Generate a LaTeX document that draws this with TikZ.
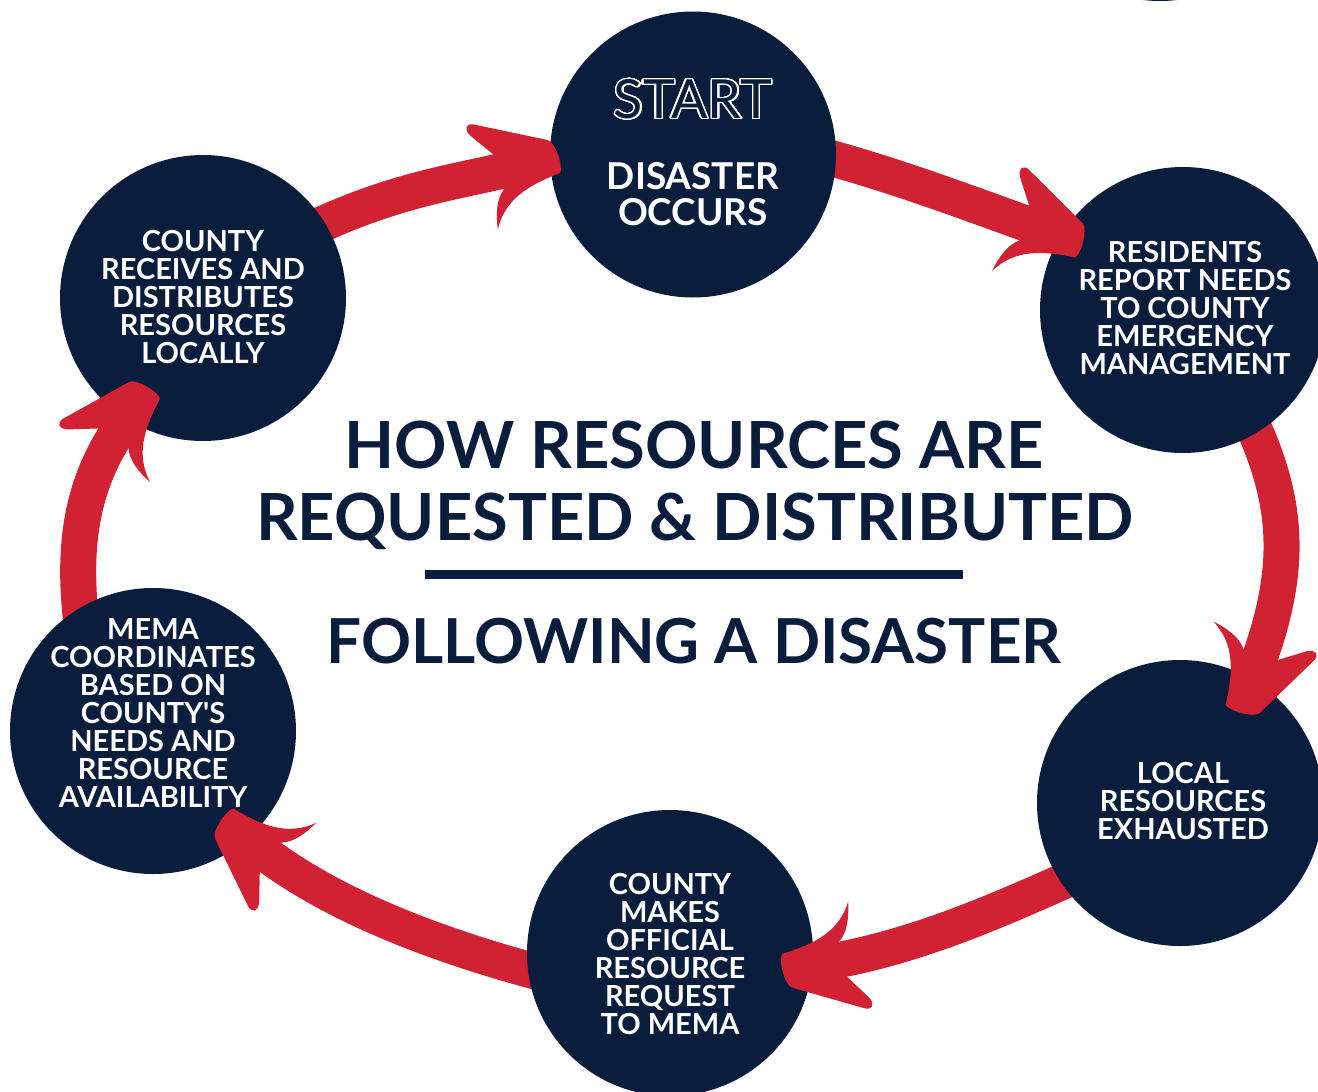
\documentclass[tikz,border=0pt]{standalone}
\usepackage{fontspec}
\setmainfont{Lato}
\usepackage{contour}
\contourlength{1.3pt}
\contournumber{48}
\definecolor{navy}{RGB}{11,29,60}
\definecolor{arrred}{RGB}{208,34,50}
\tikzset{
  circ/.style={circle, fill=navy, minimum size=286pt, inner sep=0pt},
  band/.style={draw=arrred, line width=36pt},
  ctext/.style={text=white, align=center, inner sep=0pt, font=\bfseries\fontsize{29}{28}\selectfont},
  ttext/.style={text=navy, inner sep=0pt, anchor=base, font=\bfseries\fontsize{65}{70}\selectfont},
  arrhead/.pic={\fill[arrred] (-62,-18) -- (-80,-42) .. controls (-85,-50) and (-81,-55) .. (-74,-52)
      -- (-6,-19) .. controls (1,-16) and (3,12) .. (-2,16)
      .. controls (-35,20) and (-62,28) .. (-76,56)
      .. controls (-74,40) and (-70,26) .. (-60,18) -- cycle;}
}
\begin{document}
\begin{tikzpicture}[x=1pt,y=-1pt]
\useasboundingbox (0,0) rectangle (1318,1092);
\fill[white] (0,0) rectangle (1318,1092);
\clip (0,0) rectangle (1318,1092);
% circle centres
\coordinate (p1) at (693,154.5);
\coordinate (p2) at (1183,310);
\coordinate (p3) at (1180,803);
\coordinate (p4) at (670,953);
\coordinate (p5) at (153,731);
\coordinate (p6) at (203,298);
% arrow bodies
\coordinate (s1) at (290,240); \coordinate (b1) at (514.3,167.9);
\coordinate (s2) at (800,150); \coordinate (b2) at (1039.5,228.3);
\coordinate (s3) at (1235,390); \coordinate (b3) at (1255.4,669.7);
\coordinate (s4) at (1100,865); \coordinate (b4) at (827.3,962.2);
\coordinate (s5) at (560,978); \coordinate (b5) at (257.5,847.7);
\coordinate (s6) at (88,670); \coordinate (b6) at (122.2,424.9);
\draw[band] (s1) .. controls (385,190) and (456.1,182.4) .. (b1);
\draw[band] (s2) .. controls (890,172) and (985.6,209.7) .. (b2);
\draw[band] (s3) .. controls (1292,495) and (1294,566.3) .. (b3);
\draw[band] (s4) .. controls (1010,905) and (925.8,944.8) .. (b4);
\draw[band] (s5) .. controls (450,950) and (336.3,909.3) .. (b5);
\draw[band] (s6) .. controls (72,575) and (70.6,498.6) .. (b6);
% circles
\node[circ] (c1) at (p1) {};
\node[circ] (c2) at (p2) {};
\node[circ] (c3) at (p3) {};
\node[circ] (c4) at (p4) {};
\node[circ] (c5) at (p5) {};
\node[circ] (c6) at (p6) {};
\node[circ] (c0) at (1160,-142) {};
% arrow heads
\pic[rotate=14] at (558,157) {arrhead};
\pic[rotate=-19] at (1082,243) {arrhead};
\pic[rotate=-110] at (1240,712) {arrhead};
\pic[rotate=190] at (783,970) {arrhead};
\pic[rotate=142] at (222,820) {arrhead};
\pic[rotate=55] at (148,388) {arrhead};
% circle texts
\node[inner sep=0pt, font=\fontsize{54}{54}\selectfont] (start) at (693,100) {\contour{white}{\textcolor{navy}{START}}};
\node[ctext, font=\bfseries\fontsize{37}{36}\selectfont] (t1) at (693,194) {DISASTER\\OCCURS};
\node[ctext] (t2) at (1185,308.5) {RESIDENTS\\REPORT NEEDS\\TO COUNTY\\EMERGENCY\\MANAGEMENT};
\node[ctext] (t3) at (1183,801.5) {LOCAL\\RESOURCES\\EXHAUSTED};
\node[ctext] (t4) at (670,954) {COUNTY\\MAKES\\OFFICIAL\\RESOURCE\\REQUEST\\TO MEMA};
\node[ctext] (t5) at (153,713) {MEMA\\COORDINATES\\BASED ON\\COUNTY\textquotesingle S\\NEEDS AND\\RESOURCE\\AVAILABILITY};
\node[ctext] (t6) at (203,297) {COUNTY\\RECEIVES AND\\DISTRIBUTES\\RESOURCES\\LOCALLY};
% title
\node[ttext] (h1) at (694,468) {HOW RESOURCES ARE};
\node[ttext] (h2) at (695,540) {REQUESTED \& DISTRIBUTED};
\coordinate (r1) at (425,574); \coordinate (r2) at (963,574);
\draw[navy, line width=9pt] (r1) -- (r2);
\node[ttext, font=\bfseries\fontsize{62}{66}\selectfont] (h3) at (694,663) {FOLLOWING A DISASTER};
\end{tikzpicture}
\end{document}
